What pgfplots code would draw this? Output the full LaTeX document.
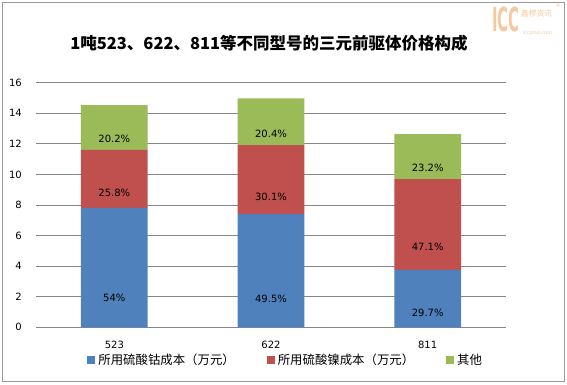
\documentclass[border=0pt]{standalone}
\usepackage{pgfplots}
\pgfplotsset{compat=1.18}
\usepackage{fontspec}
\setmainfont{DejaVu Sans}
\newfontfamily\cjk{Noto Sans CJK SC}
\definecolor{cblue}{HTML}{4F81BD}
\definecolor{cred}{HTML}{C0504D}
\definecolor{cgreen}{HTML}{9BBB59}
\definecolor{cgrid}{HTML}{868686}
\definecolor{logo}{HTML}{F6C9A0}
\pgfplotsset{sqlegend/.style={legend image code/.code={\fill[##1] (0pt,-4pt) rectangle (8pt,4pt);}}}
\begin{document}
\begin{tikzpicture}
\path[use as bounding box] (0,0) rectangle (567pt,384pt);
\fill[white] (0,0) rectangle (567pt,384pt);
\draw[gray!80, line width=0.8pt] (2pt,3pt) rectangle (564pt,382pt);
\node[text=logo, font=\bfseries\fontsize{33}{33}\selectfont, inner sep=0pt, xscale=0.45] at (506pt,364.5pt) {ICC};
\node[text=logo, font=\cjk\fontsize{7.8}{8}\selectfont, inner sep=0pt] at (536.5pt,370pt) {鑫椤资讯};
\node[text=logo, font=\fontsize{5}{5}\selectfont, inner sep=0pt] at (537.5pt,351.5pt) {iccsino.com};
\node[text=logo, font=\fontsize{5}{5}\selectfont, inner sep=0pt] at (558pt,378pt) {®};
\node[font=\cjk\bfseries\fontsize{16.5}{20}\selectfont, inner sep=0pt] at (269pt,341pt) {1吨523、622、811等不同型号的三元前驱体价格构成};
\begin{axis}[
  at={(36pt,56.7pt)}, anchor=south west,
  scale only axis, width=470pt, height=244.6pt,
  ybar stacked, bar width=0.426,
  xmin=-0.5, xmax=2.5, ymin=0, ymax=16,
  xtick={0,1,2}, xticklabels={523,622,811},
  ytick={0,2,...,16},
  ymajorgrids, grid style={cgrid, line width=0.8pt},
  axis line style={draw=none},
  major tick length=0pt, tick style={draw=none},
  /pgf/number format/assume math mode=true,
  xticklabel style={font=\fontsize{10}{12}\selectfont, inner sep=0pt, anchor=center, yshift=-17.7pt},
  yticklabel style={font=\fontsize{10}{12}\selectfont, inner sep=0pt, anchor=east, xshift=-14pt},
  nodes near coords, point meta=explicit symbolic,
  visualization depends on={rawy \as \rawy},
  every node near coord/.append style={font=\fontsize{10}{12}\selectfont, text=black, anchor=center, shift={(axis direction cs:0,-\rawy/4)}},
  legend style={at={(0.109,-0.1337)}, anchor=west, draw=none, fill=none, inner sep=0pt,
    legend columns=3, font=\cjk\fontsize{12.4}{14}\selectfont,
    /tikz/every odd column/.append style={column sep=3pt},
    /tikz/every even column/.append style={column sep=32pt},
    nodes={inner sep=0pt}},
  legend cell align=left,
]
\addplot[fill=cblue, draw=none, sqlegend] coordinates {(0,7.82) [54\%] (1,7.41) [49.5\%] (2,3.75) [29.7\%]};
\addlegendentry{所用硫酸钴成本（万元）}
\addplot[fill=cred, draw=none, sqlegend] coordinates {(0,3.78) [25.8\%] (1,4.51) [30.1\%] (2,5.95) [47.1\%]};
\addlegendentry{所用硫酸镍成本（万元）}
\addplot[fill=cgreen, draw=none, sqlegend] coordinates {(0,2.94) [20.2\%] (1,3.06) [20.4\%] (2,2.94) [23.2\%]};
\addlegendentry{其他}
\end{axis}
\end{tikzpicture}
\end{document}
